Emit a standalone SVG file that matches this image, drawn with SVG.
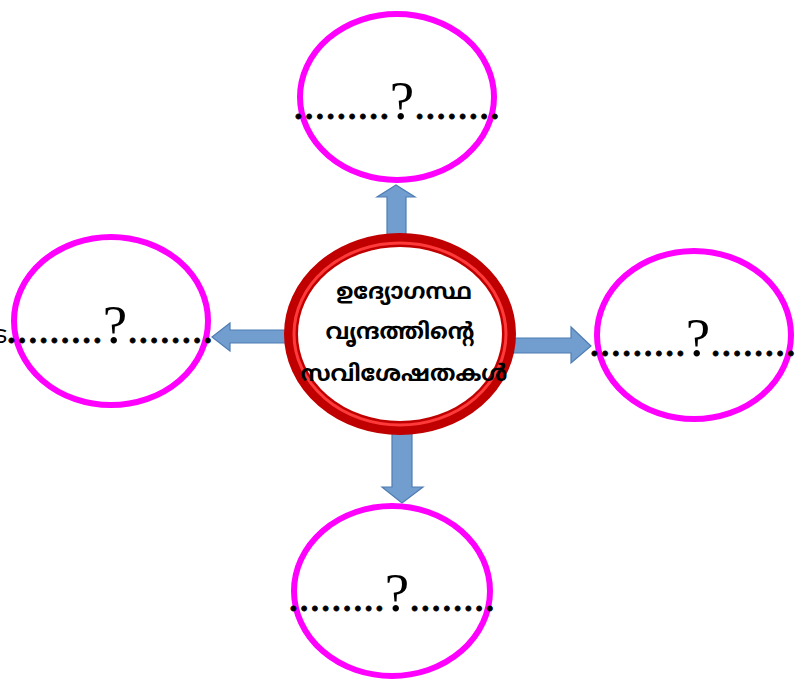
<svg xmlns="http://www.w3.org/2000/svg" width="795" height="686" viewBox="0 0 795 686">
<style>
.arrow{fill:#729ECF;stroke:#4F7DB3;stroke-width:1.2}
.bubble{fill:#fff;stroke:#FF00FF;stroke-width:6}
.dots{font-family:"Liberation Serif",serif;font-size:43px;fill:#000;stroke:#000;stroke-width:0.8}
.q{font-family:"Liberation Serif",serif;font-size:55px;stroke:none}
.ml{font-family:"Noto Sans Malayalam","Noto Sans","DejaVu Sans",sans-serif;font-size:22.5px;font-weight:bold;fill:#000;text-anchor:middle}
</style>
<rect width="795" height="686" fill="#fff"/>
<g id="connectors">
<polygon class="arrow" points="387,240 387,197 377,197 396,185 415,197 406,197 406,240"/>
<polygon class="arrow" points="392,430 392,487 382,487 402,503 423,487 412,487 412,430"/>
<polygon class="arrow" points="290,330 230,330 230,323 212,337 230,351 230,343 290,343"/>
<polygon class="arrow" points="510,338 571,338 571,327 591,346 571,363 571,353 510,353"/>
</g>
<g id="center">
<ellipse cx="400" cy="334" rx="109" ry="94" fill="#fff" stroke="#C00000" stroke-width="14"/>
<ellipse cx="400" cy="334" rx="106" ry="91" fill="none" stroke="#FF3A3A" stroke-width="3"/>
<text class="ml" x="404" y="299">ഉദ്യോഗസ്ഥ</text>
<text class="ml" x="400" y="339">വൃന്ദത്തിന്റെ</text>
<text class="ml" x="404" y="381">സവിശേഷതകൾ</text>
</g>
<g id="top">
<ellipse class="bubble" cx="397" cy="97" rx="97" ry="83"/>
<text class="dots" x="293" y="119">.........<tspan class="q">?</tspan>........</text>
</g>
<g id="left">
<ellipse class="bubble" cx="111" cy="321" rx="97" ry="84"/>
<text class="dots" x="6" y="343">.........<tspan class="q">?</tspan>........</text>
<text x="7" y="343" font-family="Noto Sans Malayalam,Noto Sans,sans-serif" font-size="24" text-anchor="end">ട</text>
</g>
<g id="right">
<ellipse class="bubble" cx="694" cy="335" rx="97" ry="84"/>
<text class="dots" x="589" y="356">.........<tspan class="q">?</tspan>........</text>
</g>
<g id="bottom">
<ellipse class="bubble" cx="392" cy="591" rx="98" ry="85"/>
<text class="dots" x="288" y="611">.........<tspan class="q">?</tspan>........</text>
</g>
</svg>
